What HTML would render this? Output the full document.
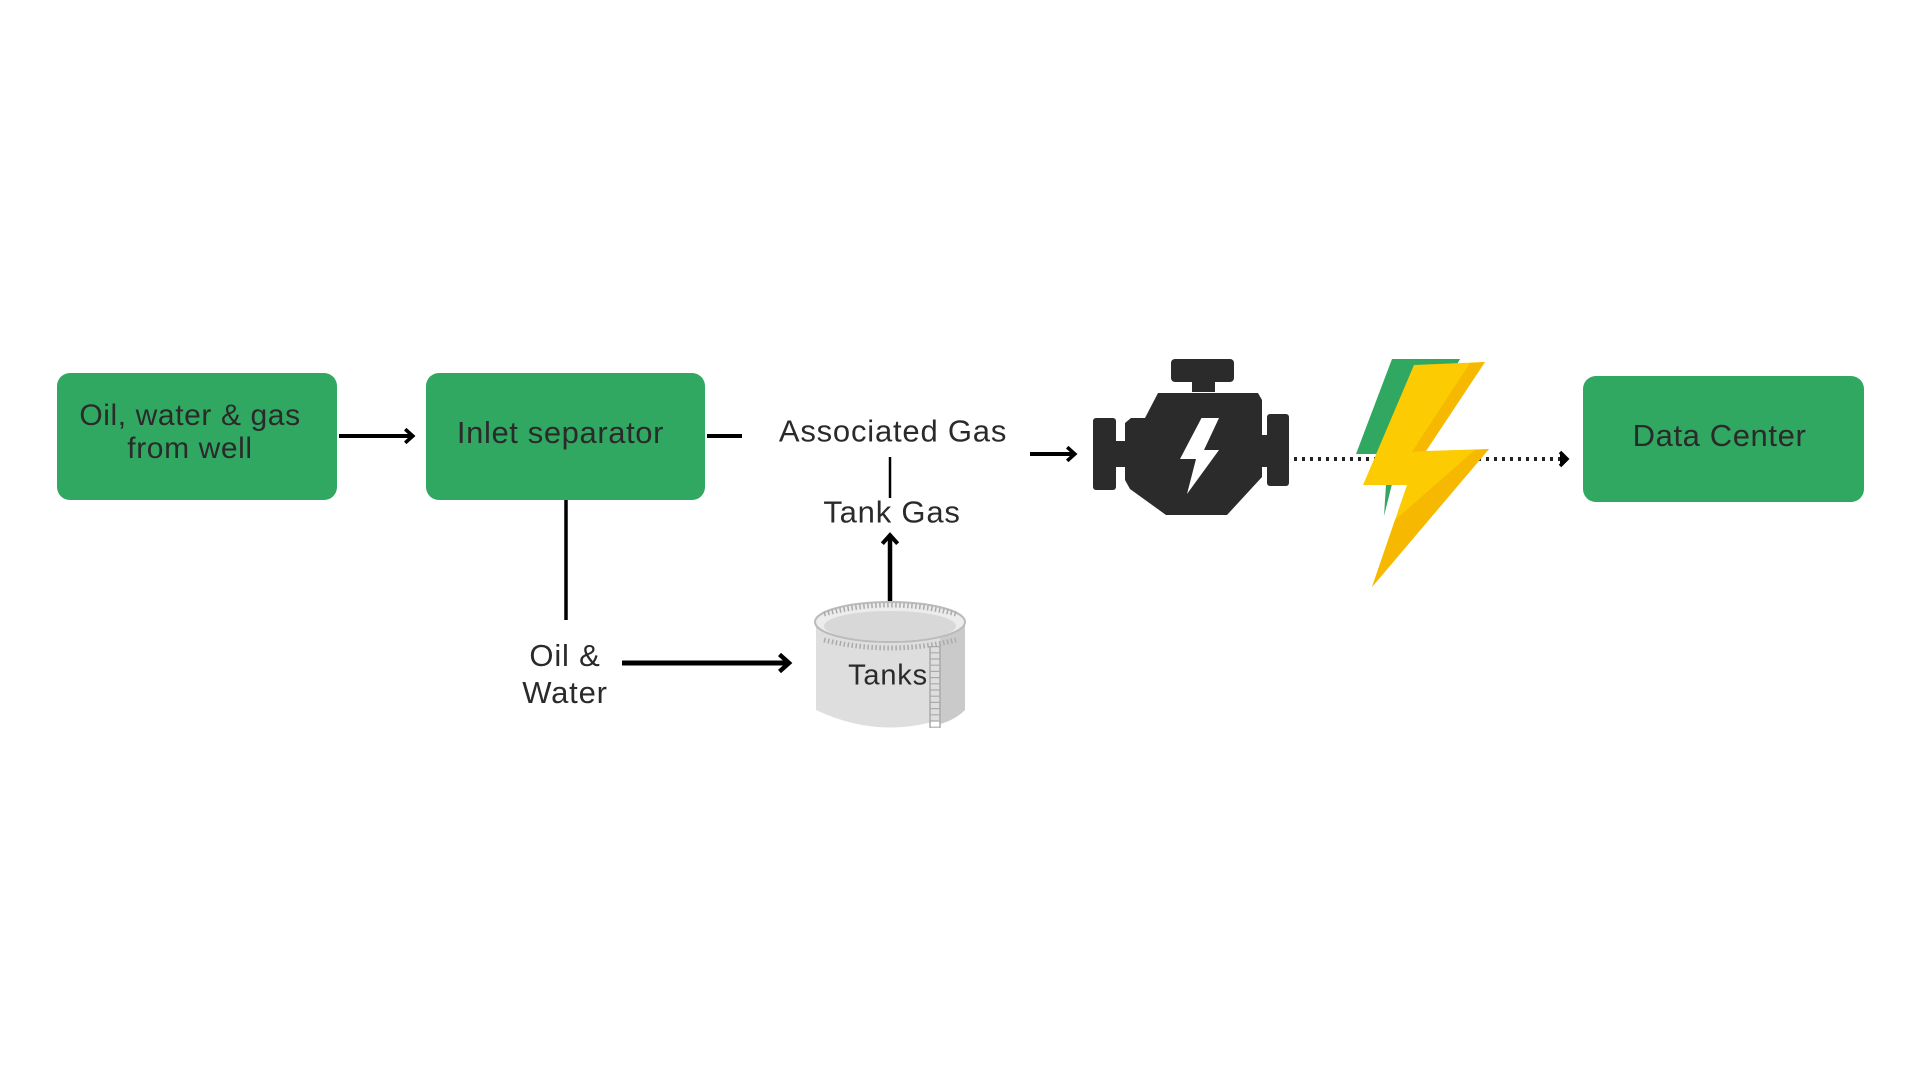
<!DOCTYPE html>
<html><head><meta charset="utf-8"><style>
html,body{margin:0;padding:0;background:#fff;}
body{width:1920px;height:1080px;position:relative;overflow:hidden;font-family:"Liberation Sans",sans-serif;color:#2a2a2a;}
.box{position:absolute;background:#31a862;border-radius:13px;display:flex;align-items:center;justify-content:center;text-align:center;font-size:30px;line-height:33px;letter-spacing:0.6px;}
.t{position:absolute;font-size:31px;white-space:nowrap;transform:translate(-50%,-50%);text-align:center;line-height:37px;letter-spacing:0.8px;}
svg{position:absolute;left:0;top:0;}
</style></head><body>
<svg width="1920" height="1080" viewBox="0 0 1920 1080">
<defs>
<marker id="ah" markerWidth="4" markerHeight="4" refX="2" refY="2" orient="auto" markerUnits="strokeWidth"><path d="M0.3,0.3 L2.2,2 L0.3,3.7" fill="none" stroke="#000" stroke-width="0.9"/></marker>
</defs>
<g stroke="#000" fill="none">
<line x1="339" y1="436" x2="412" y2="436" stroke-width="4" marker-end="url(#ah)"/>
<line x1="707" y1="436" x2="742" y2="436" stroke-width="4"/>
<line x1="890" y1="457" x2="890" y2="498" stroke-width="2.5"/>
<line x1="890" y1="602" x2="890" y2="536" stroke-width="4.5" marker-end="url(#ah)"/>
<line x1="566" y1="500" x2="566" y2="620" stroke-width="3.5"/>
<line x1="622" y1="663" x2="788" y2="663" stroke-width="5" marker-end="url(#ah)"/>
<line x1="1030" y1="454" x2="1074" y2="454" stroke-width="4" marker-end="url(#ah)"/>
<line x1="1294" y1="459" x2="1562" y2="459" stroke-width="4" stroke-dasharray="3,5" stroke="#222"/>
<path d="M1560,452 L1567,459 L1560,466" stroke-width="3.5" fill="#000"/>
</g>
<!-- tank -->
<g>
<path d="M816,622 L816,710 Q890,745 965,710 L965,622 Z" fill="#dedede"/>
<path d="M940,630 L965,622 L965,710 Q955,720 940,724 Z" fill="#cacaca"/>
<ellipse cx="890" cy="622" rx="75" ry="20" fill="#ececec" stroke="#bbb" stroke-width="2"/>
<ellipse cx="890" cy="626" rx="66" ry="15" fill="#d8d8d8"/>
<path d="M824,614 Q890,596 956,614" stroke="#aaa" stroke-width="5" fill="none" stroke-dasharray="1.5,2.5"/>
<path d="M824,640 Q890,656 956,640" stroke="#aaa" stroke-width="5" fill="none" stroke-dasharray="1.5,2.5"/>
<line x1="930" y1="646" x2="930" y2="728" stroke="#aaa" stroke-width="1.5"/>
<line x1="940" y1="644" x2="940" y2="728" stroke="#aaa" stroke-width="1.5"/>
<line x1="935" y1="646" x2="935" y2="728" stroke="#aaa" stroke-width="10" stroke-dasharray="1.2,5"/>
</g>
<!-- engine -->
<g fill="#2b2b2b">
<rect x="1171" y="359" width="63" height="23" rx="4"/>
<rect x="1192" y="380" width="23" height="12"/>
<polygon points="1158,393 1258,393 1262,400 1262,477 1227,515 1166,515 1130,489 1125,480 1125,423 1131,418 1145,418"/>
<rect x="1093" y="418" width="23" height="72" rx="3"/>
<rect x="1114" y="441" width="14" height="26"/>
<rect x="1267" y="414" width="22" height="72" rx="3"/>
<rect x="1260" y="435" width="9" height="32"/>
<polygon points="1201.5,418 1219,418 1204,450 1219,450 1187,494 1196,459 1180,459" fill="#fff"/>
</g>
<!-- lightning -->
<polygon points="1392,359 1460,359 1410,452 1400,452 1384,516 1388,454 1356,454" fill="#31a862"/>
<polygon points="1414,365 1485,362 1426,451 1489,449 1372,587 1407,485 1363,485" fill="#fdcb01"/>
<polygon points="1470,363 1485,362 1426,451 1412,452" fill="#f6b800"/>
<polygon points="1475,450 1489,449 1372,587 1395,520" fill="#f6b800"/>
</svg>
<div class="box" style="left:57px;top:373px;width:280px;height:127px;"><div style="margin-top:-10px;margin-left:-14px">Oil, water &amp; gas<br>from well</div></div>
<div class="box" style="left:426px;top:373px;width:279px;height:127px;font-size:31px;"><div style="margin-top:-9px;margin-left:-10px">Inlet separator</div></div>
<div class="box" style="left:1583px;top:376px;width:281px;height:126px;font-size:31px;"><div style="margin-top:-8px;margin-left:-8px">Data Center</div></div>
<div class="t" style="left:893px;top:431px;">Associated Gas</div>
<div class="t" style="left:892px;top:512px;">Tank Gas</div>
<div class="t" style="left:565px;top:674px;">Oil &amp;<br>Water</div>
<div class="t" style="left:888px;top:676px;font-size:29px;">Tanks</div>
</body></html>
